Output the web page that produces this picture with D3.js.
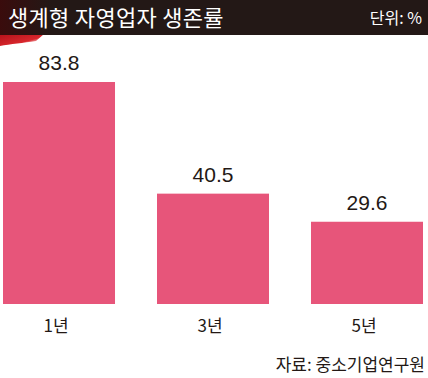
<!DOCTYPE html>
<html>
<head>
<meta charset="utf-8">
<script src="https://cdn.jsdelivr.net/npm/d3@7"></script>
<style>
  body { margin: 0; background: #fff; }
  svg { display: block; }
</style>
</head>
<body>
<div id="chart"></div>
<script>

// Data
const categories = ["1년", "3년", "5년"]
const values = [83.8, 40.5, 29.6]
const title = "생계형 자영업자 생존률"
const unitLabel = "단위: %"
const sourceLabel = "자료: 중소기업연구원"

const outerWidth = 428
const outerHeight = 378
const margin = {top: 82, bottom: 74, left: 3, right: 5}
const width = outerWidth - margin.left - margin.right
const height = outerHeight - margin.top - margin.bottom

const svg = d3.select("#chart")
    .append("svg")
    .attr("width", outerWidth)
    .attr("height", outerHeight)

// Title bar
const defs = svg.append("defs")
const grad = defs.append("linearGradient")
    .attr("id", "swoosh")
    .attr("x1", "0").attr("x2", "1").attr("y1", "0").attr("y2", "1")
grad.append("stop").attr("offset", "0%").attr("stop-color", "#b3121a")
grad.append("stop").attr("offset", "60%").attr("stop-color", "#d8262c")
grad.append("stop").attr("offset", "100%").attr("stop-color", "#fff").attr("stop-opacity", 0)

const barGrad = defs.append("linearGradient")
    .attr("id", "titlebar")
    .attr("x1", "0").attr("x2", "1")
barGrad.append("stop").attr("offset", "0%").attr("stop-color", "#3a0c0c")
barGrad.append("stop").attr("offset", "12%").attr("stop-color", "#231816")
barGrad.append("stop").attr("offset", "100%").attr("stop-color", "#231816")

svg.append("path")
    .attr("d", "M0,34 L44,34 L36,41 C24,43 10,44 0,46 Z")
    .attr("fill", "url(#swoosh)")

svg.append("rect")
    .attr("x", 0).attr("y", 0)
    .attr("width", outerWidth).attr("height", 35)
    .attr("fill", "url(#titlebar)")

svg.append("text")
    .attr("x", 8).attr("y", 26)
    .attr("fill", "#fff")
    .style("font-family", "'Noto Sans CJK KR', sans-serif")
    .style("font-size", "22px")
    .style("font-weight", 400)
    .style("letter-spacing", "0.3px")
    .text(title)

svg.append("text")
    .attr("x", 422).attr("y", 24)
    .attr("text-anchor", "end")
    .attr("fill", "#fff")
    .style("font-family", "'Noto Sans CJK KR', sans-serif")
    .style("font-size", "16px")
    .text(unitLabel)

// Scales
const x = d3.scaleBand()
    .domain(categories)
    .range([0, width])
    .paddingInner(0.2727)
    .paddingOuter(0)

const y = d3.scaleLinear()
    .domain([-2.3, 83.8])
    .range([height, 0])

const g = svg.append("g")
    .attr("transform", `translate(${margin.left}, ${margin.top})`)

g.selectAll("rect.bar")
    .data(values)
    .enter()
    .append("rect")
    .attr("class", "bar")
    .attr("x", (d, i) => x(categories[i]))
    .attr("y", d => y(d))
    .attr("width", x.bandwidth())
    .attr("height", d => height - y(d))
    .attr("fill", "#e7557a")

g.selectAll("text.value")
    .data(values)
    .enter()
    .append("text")
    .attr("class", "value")
    .attr("x", (d, i) => x(categories[i]) + x.bandwidth() / 2)
    .attr("y", d => y(d) - 12)
    .attr("text-anchor", "middle")
    .attr("fill", "#231815")
    .style("font-family", "'Liberation Sans', Arial, sans-serif")
    .style("font-size", "21px")
    .text(d => d.toFixed(1))

// Category axis
const xAxis = g.append("g")
    .attr("transform", `translate(0, ${height})`)
    .call(d3.axisBottom(x).tickSize(0).tickPadding(16))

xAxis.select(".domain").remove()
xAxis.selectAll("text")
    .attr("fill", "#231815")
    .style("font-family", "'Noto Sans CJK KR', sans-serif")
    .style("font-size", "17px")
    .attr("dx", "-3")

svg.append("text")
    .attr("x", 425).attr("y", 371)
    .attr("text-anchor", "end")
    .attr("fill", "#231815")
    .style("font-family", "'Noto Sans CJK KR', sans-serif")
    .style("font-size", "17px")
    .text(sourceLabel)

</script>
</body>
</html>
